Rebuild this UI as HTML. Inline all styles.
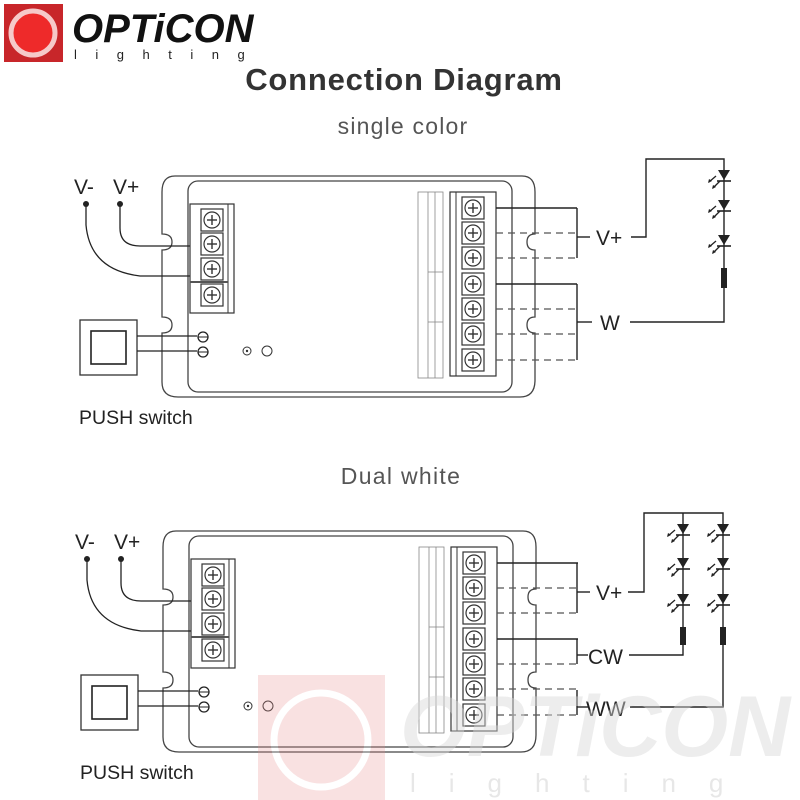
<!DOCTYPE html>
<html><head><meta charset="utf-8"><style>
html,body{margin:0;padding:0;background:#fff}
svg{display:block}
text{font-family:"Liberation Sans","DejaVu Sans",sans-serif}
</style></head><body>
<svg width="800" height="800" viewBox="0 0 800 800" xmlns="http://www.w3.org/2000/svg">
<defs>
<g id="screw">
  <rect x="-11" y="-11" width="22" height="22" fill="#fff" stroke="#333" stroke-width="1.2"/>
  <circle r="8" fill="#fff" stroke="#333" stroke-width="1.2"/>
  <line x1="-5" y1="0" x2="5" y2="0" stroke="#333" stroke-width="1.4"/>
  <line x1="0" y1="-5" x2="0" y2="5" stroke="#333" stroke-width="1.4"/>
</g>
<g id="led">
  <polygon points="-6,-8 6,-8 0,2" fill="#222"/>
  <line x1="-7" y1="3" x2="7" y2="3" stroke="#222" stroke-width="1.6"/>
  <line x1="-8" y1="-2" x2="-15" y2="4" stroke="#222" stroke-width="1.3"/>
  <polygon points="-16,5 -15,1 -12,3" fill="#222"/>
  <line x1="-4" y1="3" x2="-11" y2="10" stroke="#222" stroke-width="1.3"/>
  <polygon points="-12,11 -11,7 -8,9" fill="#222"/>
</g>
<g id="device">
  <path d="M175,176 H522 Q535,176 535,192 V234 Q527,234 527,242 Q527,250 535,250 V317 Q527,317 527,325 Q527,333 535,333 V380 Q535,397 520,397 H178 Q162,397 162,382 V333 Q172,333 172,325 Q172,317 162,317 V250 Q172,250 172,242 Q172,234 162,234 V192 Q162,176 175,176 Z" fill="#fff" stroke="#444" stroke-width="1.3"/>
  <rect x="188" y="181" width="324" height="211" rx="10" fill="none" stroke="#444" stroke-width="1.3"/>
  <rect x="190" y="204" width="44" height="109" fill="#fff" stroke="#333" stroke-width="1.2"/>
  <line x1="228" y1="204" x2="228" y2="313" stroke="#333"/>
  <use href="#screw" x="212" y="220"/><use href="#screw" x="212" y="244"/>
  <use href="#screw" x="212" y="269"/><use href="#screw" x="212" y="295"/>
  <line x1="190" y1="282" x2="228" y2="282" stroke="#555" stroke-width="2"/>
  <rect x="418" y="192" width="25" height="186" fill="none" stroke="#888" stroke-width="0.8"/>
  <line x1="428" y1="192" x2="428" y2="378" stroke="#888" stroke-width="0.8"/>
  <line x1="435" y1="192" x2="435" y2="378" stroke="#888" stroke-width="0.8"/>
  <line x1="428" y1="272" x2="443" y2="272" stroke="#888" stroke-width="0.8"/>
  <line x1="428" y1="322" x2="443" y2="322" stroke="#888" stroke-width="0.8"/>
  <rect x="450" y="192" width="46" height="184" fill="#fff" stroke="#333" stroke-width="1.2"/>
  <line x1="456" y1="192" x2="456" y2="376" stroke="#333"/>
  <use href="#screw" x="473" y="208"/><use href="#screw" x="473" y="233"/>
  <use href="#screw" x="473" y="258"/><use href="#screw" x="473" y="284"/>
  <use href="#screw" x="473" y="309"/><use href="#screw" x="473" y="334"/>
  <use href="#screw" x="473" y="360"/>
  <circle cx="247" cy="351" r="4" fill="none" stroke="#333"/><circle cx="247" cy="351" r="1.2" fill="#333"/>
  <circle cx="267" cy="351" r="5" fill="none" stroke="#333"/>
  <g stroke="#222" stroke-width="1.4" fill="none">
    <line x1="496" y1="208" x2="577" y2="208"/>
    <line x1="496" y1="284" x2="577" y2="284"/>
  </g>
  <g stroke="#555" stroke-width="1.2" stroke-dasharray="7,5" fill="none">
    <line x1="496" y1="233" x2="577" y2="233"/>
    <line x1="496" y1="258" x2="577" y2="258"/>
    <line x1="496" y1="309" x2="577" y2="309"/>
    <line x1="496" y1="334" x2="577" y2="334"/>
    <line x1="496" y1="360" x2="577" y2="360"/>
  </g>
  <circle cx="86" cy="204" r="3" fill="#222"/><circle cx="120" cy="204" r="3" fill="#222"/>
  <path d="M120,204 V228 Q120,246 140,246 H190" fill="none" stroke="#222" stroke-width="1.3"/>
  <path d="M86,204 V225 Q90,270 140,276 H190" fill="none" stroke="#222" stroke-width="1.3"/>
  <text x="74" y="194" font-size="21" fill="#222">V-</text>
  <text x="113" y="194" font-size="21" fill="#222">V+</text>
  <rect x="80" y="320" width="57" height="55" fill="#fff" stroke="#333" stroke-width="1.3"/>
  <rect x="91" y="331" width="35" height="33" fill="#fff" stroke="#222" stroke-width="1.6"/>
  <line x1="137" y1="336" x2="197" y2="336" stroke="#222" stroke-width="1.3"/>
  <line x1="137" y1="351" x2="197" y2="351" stroke="#222" stroke-width="1.3"/>
  <ellipse cx="203" cy="337" rx="5" ry="5" fill="#fff" stroke="#222" stroke-width="1.3"/>
  <ellipse cx="203" cy="352" rx="5" ry="5" fill="#fff" stroke="#222" stroke-width="1.3"/>
  <line x1="198" y1="337" x2="208" y2="337" stroke="#222"/>
  <line x1="198" y1="352" x2="208" y2="352" stroke="#222"/>
  <text x="79" y="424" font-size="19.5" fill="#222">PUSH switch</text>
</g>
</defs>

<rect x="4" y="4" width="59" height="58" fill="#c8262a"/>
<circle cx="33" cy="33" r="22" fill="#ee2a2a" stroke="#f6c9c9" stroke-width="5"/>
<text x="72" y="42" font-size="40" font-weight="bold" font-style="italic" fill="#111">OPTiCON</text>
<text x="74" y="59" font-size="13" fill="#222" letter-spacing="18.5">lighting</text>

<text x="404" y="90" font-size="31" font-weight="bold" fill="#333" text-anchor="middle" letter-spacing="0.8">Connection Diagram</text>
<text x="403" y="134" font-size="23" fill="#555" text-anchor="middle" letter-spacing="1.2">single color</text>
<text x="401" y="484" font-size="23" fill="#555" text-anchor="middle" letter-spacing="1.3">Dual white</text>

<use href="#device"/>
<use href="#device" x="1" y="355"/>

<g stroke="#222" stroke-width="1.4" fill="none">
  <line x1="577" y1="208" x2="577" y2="258"/>
  <line x1="577" y1="284" x2="577" y2="360"/>
  <line x1="577" y1="237" x2="590" y2="237"/>
  <line x1="577" y1="322" x2="592" y2="322"/>
  <polyline points="631,237 646,237 646,159 724,159 724,322 630,322"/>
</g>
<use href="#led" x="724" y="178"/><use href="#led" x="724" y="208"/><use href="#led" x="724" y="243"/>
<rect x="721" y="268" width="6" height="20" fill="#222"/>
<text x="596" y="245" font-size="21" fill="#222">V+</text>
<text x="600" y="330" font-size="21" fill="#222">W</text>

<g stroke="#222" stroke-width="1.4" fill="none">
  <line x1="577" y1="563" x2="577" y2="613"/>
  <line x1="577" y1="639" x2="577" y2="664"/>
  <line x1="577" y1="690" x2="577" y2="715"/>
  <line x1="577" y1="592" x2="590" y2="592"/>
  <line x1="577" y1="655" x2="588" y2="655"/>
  <line x1="577" y1="707" x2="588" y2="707"/>
  <polyline points="628,592 644,592 644,513 723,513 723,707 630,707"/>
  <polyline points="683,513 683,655 629,655"/>
</g>
<use href="#led" x="683" y="532"/><use href="#led" x="683" y="566"/><use href="#led" x="683" y="602"/>
<use href="#led" x="723" y="532"/><use href="#led" x="723" y="566"/><use href="#led" x="723" y="602"/>
<rect x="680" y="627" width="6" height="18" fill="#222"/>
<rect x="720" y="627" width="6" height="18" fill="#222"/>
<text x="596" y="600" font-size="21" fill="#222">V+</text>
<text x="588" y="664" font-size="21" fill="#222">CW</text>
<text x="586" y="716" font-size="21" fill="#222">WW</text>

<g opacity="0.25">
  <rect x="258" y="675" width="127" height="125" fill="#e88a8a"/>
  <circle cx="321" cy="740" r="47" fill="none" stroke="#fff" stroke-width="7"/>
</g>
<text x="400" y="756" font-size="86" font-weight="bold" font-style="italic" fill="#d8d8d8" opacity="0.45">OPTiCON</text>
<text x="410" y="792" font-size="26" fill="#d0d0d0" letter-spacing="33" opacity="0.5">lighting</text>
</svg>
</body></html>
